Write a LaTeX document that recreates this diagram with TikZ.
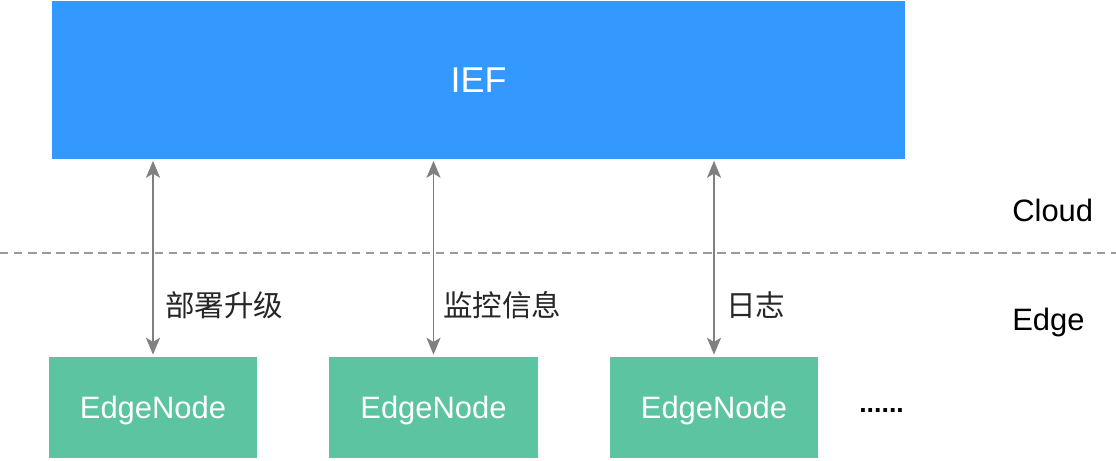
\documentclass[tikz,border=0pt]{standalone}
\usepackage{fontspec}
\setmainfont{Liberation Sans}
\newfontfamily\cjk{Noto Sans CJK SC}
\usetikzlibrary{arrows.meta}
\definecolor{iefblue}{RGB}{51,153,255}
\definecolor{nodegreen}{RGB}{92,196,160}
\definecolor{linkgray}{RGB}{128,128,128}
\begin{document}
\begin{tikzpicture}[x=0.025cm, y=-0.025cm,
  every node/.style={font=\fontsize{22}{26}\selectfont, inner sep=0pt},
  enode/.style={fill=nodegreen, text=white, minimum width=5.2cm, minimum height=2.525cm, text depth=1pt},
  link/.style={linkgray, line width=1.3pt, {Stealth[length=12pt,width=10pt,inset=3pt]}-{Stealth[length=12pt,width=10pt,inset=3pt]}, shorten <=1.5pt, shorten >=1.5pt},
  lbl/.style={anchor=west, font=\cjk\fontsize{21}{24}\selectfont, text=black!85}]
  \useasboundingbox (0,0) rectangle (1116,460);
  \node[fill=iefblue, text=white, minimum width=21.325cm, minimum height=3.925cm, font=\fontsize{25.5}{30}\selectfont] (ief) at (478.5,80) {IEF};
  \draw[linkgray!80, line width=0.8pt, dash pattern=on 6pt off 4pt] (0,253) -- (1116,253);
  \node[anchor=west] (cloud) at (1012,210) {Cloud};
  \node[anchor=west] (edge) at (1012,322) {Edge};
  % edge side
  \node[enode] (en1) at (153,407.5) {EdgeNode};
  \node[enode] (en2) at (433.5,407.5) {EdgeNode};
  \node[enode] (en3) at (714,407.5) {EdgeNode};
  \node[anchor=west, font=\bfseries\fontsize{19}{22}\selectfont] (more) at (859,411) {......};
  \draw[link] (ief.south -| en1.north) -- (en1.north);
  \draw[link] (ief.south -| en2.north) -- (en2.north);
  \draw[link] (ief.south -| en3.north) -- (en3.north);
  \node[lbl] (l1) at (165,305) {部署升级};
  \node[lbl] (l2) at (443,305) {监控信息};
  \node[lbl] (l3) at (726,305) {日志};
\end{tikzpicture}
\end{document}
